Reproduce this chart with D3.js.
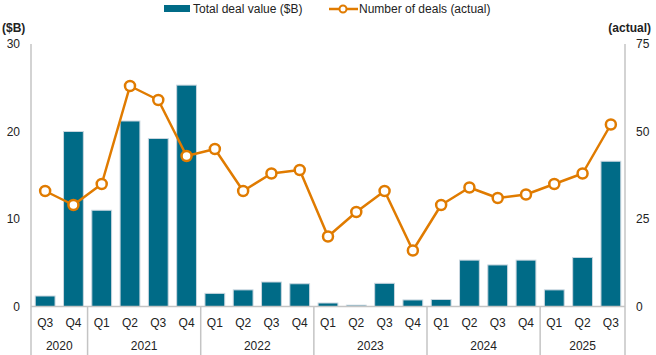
<!DOCTYPE html>
<html><head><meta charset="utf-8">
<script src="https://cdn.jsdelivr.net/npm/d3@7"></script>
<style>body{margin:0;background:#fff;}svg{display:block;font-family:"Liberation Sans",Arial,sans-serif;}</style>
</head><body>
<svg id="c" width="656" height="355"></svg>
<script>
const quarters = ["Q3","Q4","Q1","Q2","Q3","Q4","Q1","Q2","Q3","Q4","Q1","Q2","Q3","Q4","Q1","Q2","Q3","Q4","Q1","Q2","Q3"];
const years = ["2020","2020","2021","2021","2021","2021","2022","2022","2022","2022","2023","2023","2023","2023","2024","2024","2024","2024","2025","2025","2025"];
const dealValue = [1.2,20.0,11.0,21.2,19.2,25.3,1.5,1.9,2.8,2.6,0.4,0.15,2.65,0.75,0.8,5.3,4.75,5.3,1.9,5.6,16.6];
const dealCount = [33,29,35,63,59,43,45,33,38,39,20,27,33,16,29,34,31,32,35,38,52];
const leftTicks = [0,10,20,30];
const rightTicks = [0,25,50,75];

const svg = d3.select("#c");
const m = {l:31, r:625, t:44, b:306.5};
const keys = quarters.map((q,i)=>years[i]+"-"+q);
const x = d3.scaleBand().domain(keys).range([m.l,m.r]).paddingInner(0.3).paddingOuter(0.15);
const yL = d3.scaleLinear().domain([0,30]).range([m.b,m.t]);
const yR = d3.scaleLinear().domain([0,75]).range([m.b,m.t]);
const teal = "#006b87", orange = "#e07b00", grey = "#c4c4c4";

// bars
svg.append("g").selectAll("rect").data(dealValue).join("rect")
  .attr("x",(d,i)=>x(keys[i])).attr("width",x.bandwidth())
  .attr("y",d=>yL(d)).attr("height",d=>yL(0)-yL(d))
  .attr("fill",teal).attr("stroke","#c9d6df").attr("stroke-width",1);

// axes lines
svg.append("line").attr("x1",m.l).attr("x2",m.l).attr("y1",m.t).attr("y2",355).attr("stroke",grey).attr("stroke-width",1.5);
svg.append("line").attr("x1",m.r).attr("x2",m.r).attr("y1",m.t).attr("y2",355).attr("stroke",grey).attr("stroke-width",1.5);
svg.append("line").attr("x1",m.l).attr("x2",m.r).attr("y1",m.b).attr("y2",m.b).attr("stroke",grey).attr("stroke-width",1.5);

// year group separators
const groups = d3.groups(keys.map((k,i)=>({k,y:years[i]})), d=>d.y);
const step = x.step();
groups.forEach(([yr,items],gi)=>{
  const x0 = gi===0 ? m.l : x(items[0].k) - step*x.paddingInner()/2;
  const lastK = items[items.length-1].k;
  const x1 = gi===groups.length-1 ? m.r : x(lastK)+x.bandwidth()+step*x.paddingInner()/2;
  if(gi>0) svg.append("line").attr("x1",x0).attr("x2",x0).attr("y1",m.b).attr("y2",355).attr("stroke",grey).attr("stroke-width",1.5);
  svg.append("text").attr("x",(x0+x1)/2).attr("y",350).attr("text-anchor","middle").attr("font-size",12).attr("fill","#222").text(yr);
});

// quarter labels
svg.append("g").selectAll("text").data(quarters).join("text")
  .attr("x",(d,i)=>x(keys[i])+x.bandwidth()/2).attr("y",327)
  .attr("text-anchor","middle").attr("font-size",12).attr("fill","#222").text(d=>d);

// left ticks
svg.append("g").selectAll("text").data(leftTicks).join("text")
  .attr("x",20).attr("y",d=>yL(d)+4).attr("text-anchor","end").attr("font-size",12).attr("fill","#222").text(d=>d);
svg.append("g").selectAll("text").data(rightTicks).join("text")
  .attr("x",636).attr("y",d=>yR(d)+4).attr("text-anchor","start").attr("font-size",12).attr("fill","#222").text(d=>d);
svg.append("text").attr("x",2).attr("y",32).attr("font-size",12).attr("font-weight","bold").attr("fill","#222").text("($B)");
svg.append("text").attr("x",651).attr("y",32).attr("text-anchor","end").attr("font-size",12).attr("font-weight","bold").attr("fill","#222").text("(actual)");

// line
const line = d3.line().x((d,i)=>x(keys[i])+x.bandwidth()/2).y(d=>yR(d));
svg.append("path").datum(dealCount).attr("d",line).attr("fill","none").attr("stroke",orange).attr("stroke-width",2.5).attr("stroke-linejoin","round");
svg.append("g").selectAll("circle").data(dealCount).join("circle")
  .attr("cx",(d,i)=>x(keys[i])+x.bandwidth()/2).attr("cy",d=>yR(d)).attr("r",5)
  .attr("fill","#fff").attr("stroke",orange).attr("stroke-width",2.5);

// legend
svg.append("rect").attr("x",164).attr("y",5).attr("width",26).attr("height",7).attr("fill",teal);
svg.append("text").attr("x",193).attr("y",13).attr("font-size",12).attr("fill","#222").text("Total deal value ($B)");
svg.append("line").attr("x1",329).attr("x2",358).attr("y1",9).attr("y2",9).attr("stroke",orange).attr("stroke-width",2.5);
svg.append("circle").attr("cx",343).attr("cy",9).attr("r",3.5).attr("fill","#fff").attr("stroke",orange).attr("stroke-width",2);
svg.append("text").attr("x",359).attr("y",13).attr("font-size",12).attr("fill","#222").text("Number of deals (actual)");
</script>
</body></html>
